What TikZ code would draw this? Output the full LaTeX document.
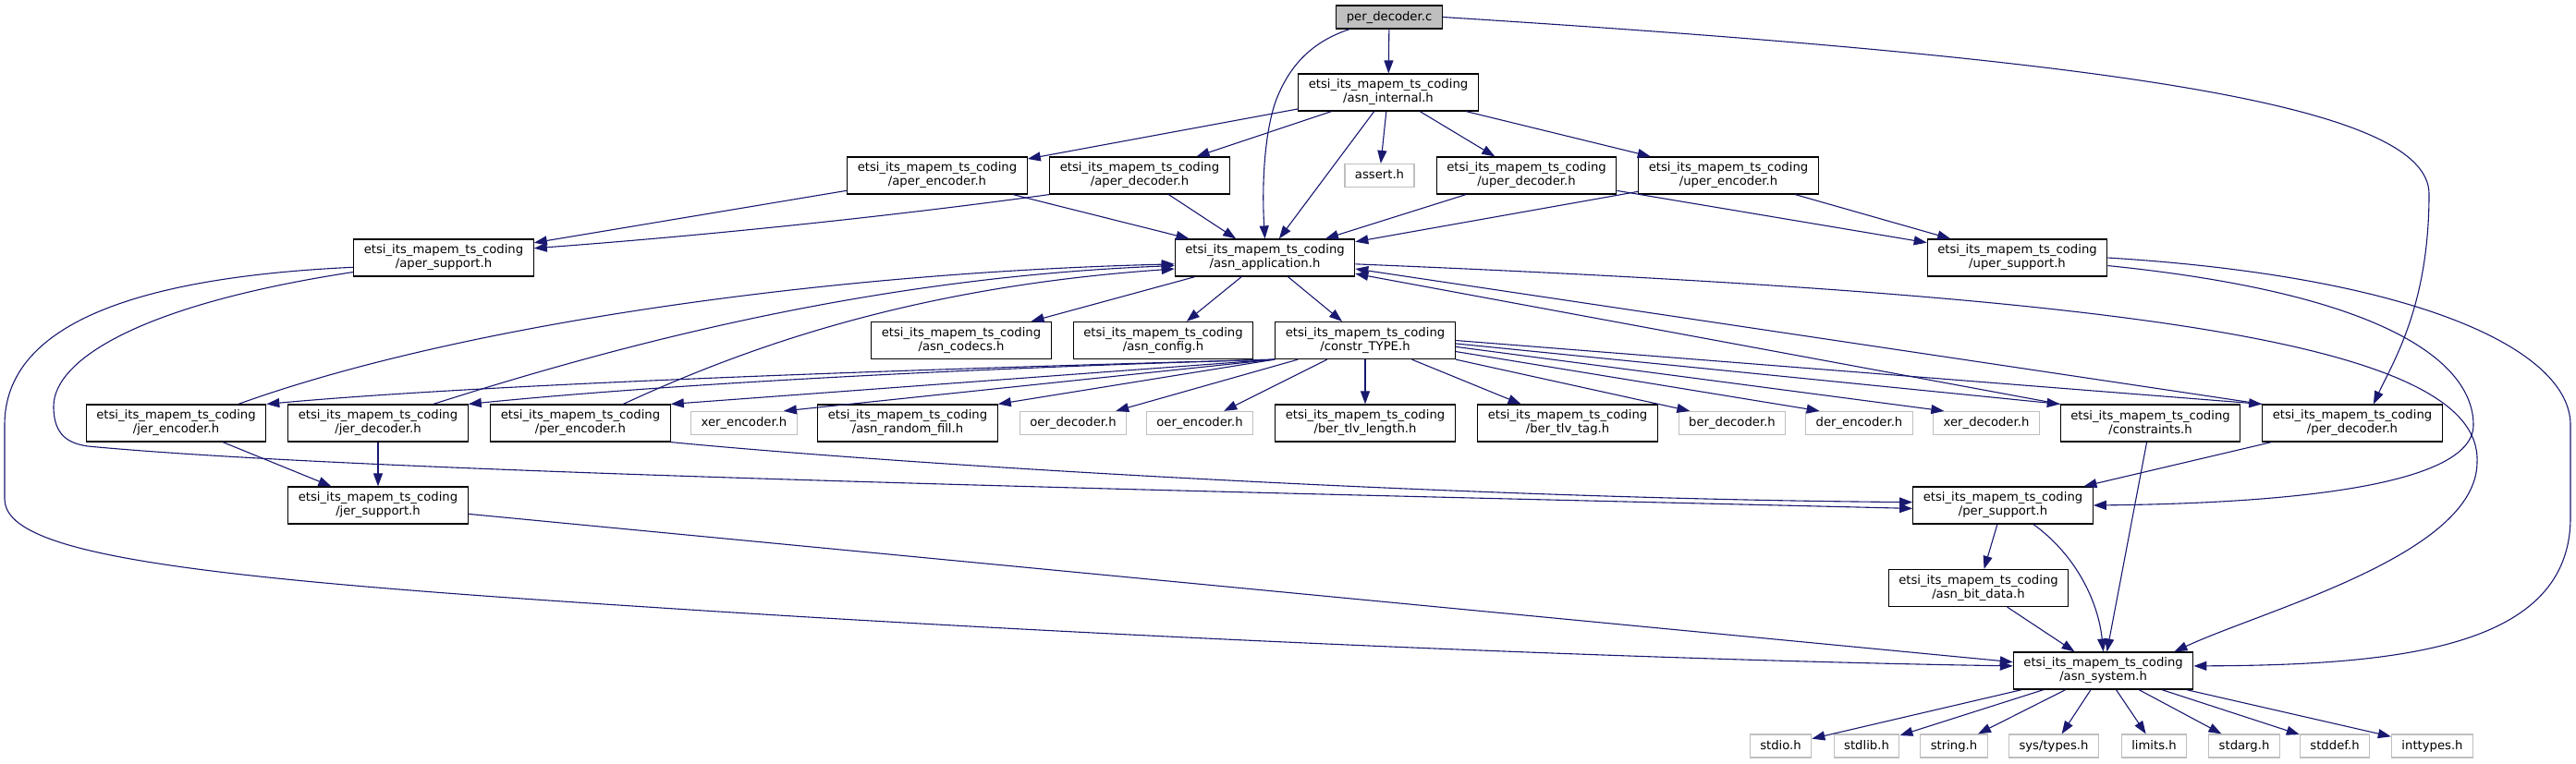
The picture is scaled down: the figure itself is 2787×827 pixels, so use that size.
\documentclass[tikz,border=0pt]{standalone}
\usepackage{fontspec}
\setmainfont{DejaVu Sans}
\usetikzlibrary{arrows.meta}
\definecolor{edgeblue}{HTML}{191970}
\definecolor{extgrey}{HTML}{BFBFBF}
\newcommand{\etsi}{etsi\_its\_mapem\_ts\_coding\\/}

\begin{document}
\begin{tikzpicture}
  [x=1pt,y=-1pt,
   every node/.style={draw,fill=white,line width=1.2pt,inner xsep=11pt,inner ysep=0pt,
     font=\fontsize{13.2}{15}\selectfont},
   docfile/.style={align=center,minimum height=40pt},
   extfile/.style={draw=extgrey,minimum height=25pt,text height=10pt,text depth=3pt},
   rootfile/.style={fill=extgrey,minimum height=25pt,text height=10pt,text depth=3pt},
   incl/.style={draw=edgeblue,line width=1.1pt,-{Triangle[length=14pt,width=10pt]}}]
  \useasboundingbox (0,0) rectangle (2787,827);

  \node[rootfile] (pdc) at (1503,18.5) {per\_decoder.c};
  \node[docfile] (intl) at (1502,100) {\etsi asn\_internal.h};

  \node[docfile] (aenc)   at (1014,190)   {\etsi aper\_encoder.h};
  \node[docfile] (adec)   at (1233,190)   {\etsi aper\_decoder.h};
  \node[extfile] (assert) at (1492.5,190) {assert.h};
  \node[docfile] (udec)   at (1651.5,190) {\etsi uper\_decoder.h};
  \node[docfile] (uenc)   at (1870,190)   {\etsi uper\_encoder.h};

  \node[docfile] (asup) at (480,279)    {\etsi aper\_support.h};
  \node[docfile] (app)  at (1368.5,279) {\etsi asn\_application.h};
  \node[docfile] (usup) at (2182.5,279) {\etsi uper\_support.h};

  \node[docfile] (codecs) at (1040,368.5)   {\etsi asn\_codecs.h};
  \node[docfile] (config) at (1258.5,368.5) {\etsi asn\_config.h};
  \node[docfile] (ctype)  at (1477,368.5)   {\etsi constr\_TYPE.h};

  \node[docfile] (jenc)   at (190.5,458)  {\etsi jer\_encoder.h};
  \node[docfile] (jdec)   at (409,458)    {\etsi jer\_decoder.h};
  \node[docfile] (penc)   at (628,458)    {\etsi per\_encoder.h};
  \node[extfile] (xenc)   at (805,458)    {xer\_encoder.h};
  \node[docfile] (rfill)  at (982,458)    {\etsi asn\_random\_fill.h};
  \node[extfile] (odec)   at (1161,458)   {oer\_decoder.h};
  \node[extfile] (oenc)   at (1298,458)   {oer\_encoder.h};
  \node[docfile] (tlvlen) at (1477,458)   {\etsi ber\_tlv\_length.h};
  \node[docfile] (tlvtag) at (1696,458)   {\etsi ber\_tlv\_tag.h};
  \node[extfile] (bdec)   at (1874,458)   {ber\_decoder.h};
  \node[extfile] (denc)   at (2011.5,458) {der\_encoder.h};
  \node[extfile] (xdec)   at (2149,458)   {xer\_decoder.h};
  \node[docfile] (cons)   at (2326.5,458) {\etsi constraints.h};
  \node[docfile] (pdech)  at (2545,458)   {\etsi per\_decoder.h};

  \node[docfile] (jsup) at (409,547)      {\etsi jer\_support.h};
  \node[docfile] (psup) at (2167,547)     {\etsi per\_support.h};
  \node[docfile] (bitd) at (2140.5,636.5) {\etsi asn\_bit\_data.h};
  \node[docfile] (sys)  at (2275.6,726)   {\etsi asn\_system.h};

  \node[extfile] (stdio)    at (1926.5,807.5) {stdio.h};
  \node[extfile] (stdlib)   at (2019.5,807.5) {stdlib.h};
  \node[extfile] (string)   at (2114,807.5)   {string.h};
  \node[extfile] (systypes) at (2222,807.5)   {sys/types.h};
  \node[extfile] (limits)   at (2330.5,807.5) {limits.h};
  \node[extfile] (stdarg)   at (2428,807.5)   {stdarg.h};
  \node[extfile] (stddef)   at (2526,807.5)   {stddef.h};
  \node[extfile] (inttypes) at (2631.5,807.5) {inttypes.h};

  % straight includes
  \foreach \from/\to in {pdc/intl,intl/aenc,intl/adec,intl/app,intl/assert,intl/udec,
      intl/uenc,aenc/asup,aenc/app,adec/app,udec/app,udec/usup,uenc/app,uenc/usup,
      app/codecs,app/config,app/ctype,ctype/odec,ctype/oenc,ctype/tlvlen,ctype/tlvtag,
      jenc/jsup,jdec/jsup,jsup/sys,psup/bitd,bitd/sys,cons/sys,pdech/psup,
      sys/stdio,sys/stdlib,sys/string,sys/systypes,sys/limits,sys/stdarg,sys/stddef,sys/inttypes}
    \draw[incl] (\from) -- (\to);

  % per_decoder.c
  \draw[incl] (pdc.197) .. controls (1420,45) and (1395,70) .. (1380,110)
              .. controls (1368,145) and (1365,200) .. (app.north);
  \draw[incl] (pdc.east) .. controls (2300,65) and (2628,115) .. (2628,210)
              .. controls (2628,330) and (2590,390) .. (pdech.42);

  % aper side
  \draw[incl] (adec.south west) .. controls (950,236) and (750,256) .. (asup.6);
  \draw[incl] (asup.189) .. controls (150,330) and (58,390) .. (58,440)
              .. controls (58,472) and (75,480) .. (95,483)
              .. controls (400,512) and (1300,532) .. (psup.182);
  \draw[incl] (asup.186) .. controls (150,300) and (5,350) .. (5,460)
              -- (5,540) .. controls (5,600) and (200,625) .. (700,657)
              .. controls (1200,690) and (1800,715) .. (sys.177);

  % back to asn_application
  \draw[incl] (jenc.17) .. controls (500,350) and (900,295) .. (app.184);
  \draw[incl] (jdec.19) .. controls (680,370) and (950,300) .. (app.185.5);
  \draw[incl] (penc.24) .. controls (820,370) and (1000,310) .. (app.187.5);
  \draw[incl] (cons.north west) -- (app.-10);
  \draw[incl] (pdech.north west) -- (app.-7);
  \draw[incl] (app.-4) .. controls (2300,320) and (2685,370) .. (2680,500)
              .. controls (2680,600) and (2450,660) .. (sys.15);

  % constr_TYPE fan
  \draw[incl] (ctype.south west) .. controls (900,402) and (500,418) .. (jenc.north east);
  \draw[incl] (ctype.south west) .. controls (1000,400) and (700,418) .. (jdec.north east);
  \draw[incl] (ctype.south west) -- (penc.north east);
  \draw[incl] (ctype.south west) -- (xenc.17);
  \draw[incl] (ctype.south west) -- (rfill.north east);
  \draw[incl] (ctype.south east) -- (bdec.164);
  \draw[incl] (ctype.-7) -- (denc.163);
  \draw[incl] (ctype.-4) -- (xdec.164);
  \draw[incl] (ctype.-2) -- (cons.north west);
  \draw[incl] (ctype.east) -- (pdech.north west);

  % support headers
  \draw[incl] (penc.south east) .. controls (1000,505) and (1600,540) .. (psup.178);
  \draw[incl] (psup.-32) .. controls (2245,600) and (2270,650) .. (sys.north);
  \draw[incl] (usup.-5) .. controls (2600,320) and (2676,400) .. (2676,460)
              .. controls (2676,530) and (2450,545) .. (psup.east);
  \draw[incl] (usup.east) .. controls (2620,300) and (2781,380) .. (2781,460)
              -- (2781,560) .. controls (2781,700) and (2600,720) .. (sys.3);

\end{tikzpicture}
\end{document}
